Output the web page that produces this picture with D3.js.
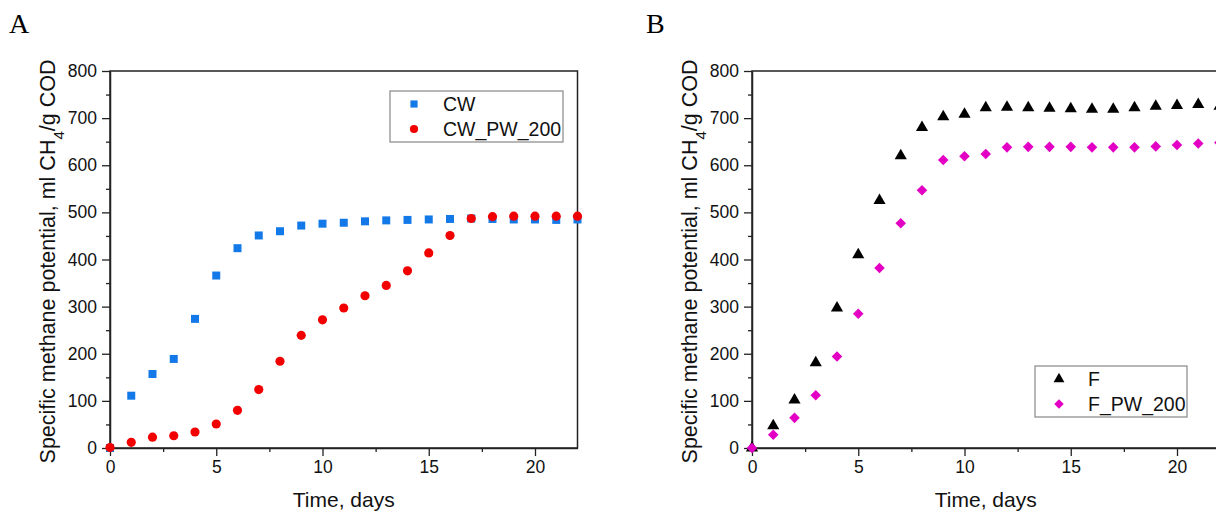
<!DOCTYPE html>
<html>
<head>
<meta charset="utf-8">
<script src="https://cdn.jsdelivr.net/npm/d3@7"></script>
<style>
  body { margin: 0; background: #fff; }
  svg { display: block; }
  .tick text { font-family: "Liberation Sans", Arial, sans-serif; font-size: 17.5px; fill: #111; }
</style>
</head>
<body>
<svg id="chart" width="1216" height="513"></svg>
<script>
// DATA
var days = [0,1,2,3,4,5,6,7,8,9,10,11,12,13,14,15,16,17,18,19,20,21,22];
var cw       = [0,111,157,189,274,366,424,451,460,472,476,478,481,483,484,485,486,487,486,485,485,484,485];
var cwPw200  = [1,12,23,26,34,51,80,124,184,239,272,297,323,345,376,414,451,487,491,492,492,492,492];
var f        = [0,47,102,181,297,410,525,620,680,703,708,722,723,722,721,720,719,719,722,725,727,729,725];
var fPw200   = [0,28,64,112,194,285,382,477,547,611,619,624,638,639,639,639,638,638,638,640,643,646,648];
var xTicks = [0,5,10,15,20];
var yTicks = [0,100,200,300,400,500,600,700,800];
var yTitle = "Specific methane potential, ml CH";

var svg = d3.select("#chart");
var plotTop = 71, plotBottom = 448;

function drawPanel(p){
  var g = svg.append("g");
  var x = d3.scaleLinear().domain([0,22]).range([p.left, p.left + 467.5]);
  var y = d3.scaleLinear().domain([0,800]).range([plotBottom, plotTop]);

  // frame (top/right)
  g.append("rect")
    .attr("x", x(0)).attr("y", y(800))
    .attr("width", x(22) - x(0)).attr("height", y(0) - y(800))
    .attr("fill", "none").attr("stroke", "#222").attr("stroke-width", 1.5);

  // minor ticks
  g.append("g").attr("transform", "translate(" + x(0) + ",0)")
    .call(d3.axisLeft(y).tickValues(d3.range(50, 800, 100)).tickSize(4).tickFormat(""))
    .call(function(a){ a.select(".domain").remove(); a.selectAll("line").attr("stroke","#222").attr("stroke-width",1.3); });
  g.append("g").attr("transform", "translate(0," + y(0) + ")")
    .call(d3.axisBottom(x).tickValues([2.5,7.5,12.5,17.5]).tickSize(4).tickFormat(""))
    .call(function(a){ a.select(".domain").remove(); a.selectAll("line").attr("stroke","#222").attr("stroke-width",1.3); });

  // major axes
  g.append("g").attr("transform", "translate(" + x(0) + ",0)")
    .call(d3.axisLeft(y).tickValues(yTicks).tickSize(8).tickPadding(5).tickSizeOuter(0))
    .call(function(a){ a.select(".domain").attr("stroke","#222").attr("stroke-width",1.5); a.selectAll("line").attr("stroke","#222").attr("stroke-width",1.3); });
  g.append("g").attr("transform", "translate(0," + y(0) + ")")
    .call(d3.axisBottom(x).tickValues(xTicks).tickSize(8).tickPadding(5).tickSizeOuter(0))
    .call(function(a){ a.select(".domain").attr("stroke","#222").attr("stroke-width",1.5); a.selectAll("line").attr("stroke","#222").attr("stroke-width",1.3); });

  // axis titles
  g.append("text")
    .attr("x", (x(0) + x(22)) / 2).attr("y", 507)
    .attr("text-anchor", "middle")
    .style("font-family", "Liberation Sans, Arial, sans-serif").style("font-size", "21px").attr("fill", "#111")
    .text("Time, days");
  var yt = g.append("text")
    .attr("transform", "translate(" + (p.left - 55) + "," + ((plotTop + plotBottom) / 2 + 2) + ") rotate(-90)")
    .attr("text-anchor", "middle")
    .style("font-family", "Liberation Sans, Arial, sans-serif").style("font-size", "21.5px").attr("fill", "#111");
  yt.append("tspan").text(yTitle);
  yt.append("tspan").attr("baseline-shift", "sub").style("font-size", "15px").text("4");
  yt.append("tspan").text("/g COD");

  // panel letter
  g.append("text").attr("x", p.letterX).attr("y", 33)
    .style("font-family", "Liberation Serif, Times New Roman, serif").style("font-size", "28px").attr("fill", "#000")
    .text(p.letter);

  // series
  p.series.forEach(function(s){
    g.append("g").selectAll("path").data(s.values).enter().append("path")
      .attr("transform", function(d,i){ return "translate(" + x(days[i]) + "," + y(d) + ")" + (s.rotate ? " rotate(45)" : ""); })
      .attr("d", d3.symbol().type(s.symbol).size(s.size))
      .attr("fill", s.color);
  });

  // legend
  var lg = g.append("g");
  lg.append("rect").attr("x", p.legend[0]).attr("y", p.legend[1]).attr("width", p.legend[2]).attr("height", 51)
    .attr("fill", "#fff").attr("stroke", "#888").attr("stroke-width", 1.2);
  p.series.forEach(function(s, i){
    var ry = p.legend[1] + 13 + i * 25;
    lg.append("path").attr("transform", "translate(" + (p.legend[0] + 24) + "," + ry + ")" + (s.rotate ? " rotate(45)" : ""))
      .attr("d", d3.symbol().type(s.symbol).size(s.size * 0.8)).attr("fill", s.color);
    lg.append("text").attr("x", p.legend[0] + 53).attr("y", ry + 7)
      .style("font-family", "Liberation Sans, Arial, sans-serif").style("font-size", "19.5px").attr("fill", "#111")
      .text(s.name);
  });
}

drawPanel({
  left: 110, letter: "A", letterX: 9, legend: [390, 91, 173],
  series: [
    {name: "CW", values: cw, symbol: d3.symbolSquare, size: 64, color: "#1479e8"},
    {name: "CW_PW_200", values: cwPw200, symbol: d3.symbolCircle, size: 66, color: "#f20000"}
  ]
});
drawPanel({
  left: 752, letter: "B", letterX: 646, legend: [1035, 366, 152],
  series: [
    {name: "F", values: f, symbol: d3.symbolTriangle, size: 64, color: "#000"},
    {name: "F_PW_200", values: fPw200, symbol: d3.symbolSquare, size: 56, color: "#e300c4", rotate: true}
  ]
});
</script>
</body>
</html>
